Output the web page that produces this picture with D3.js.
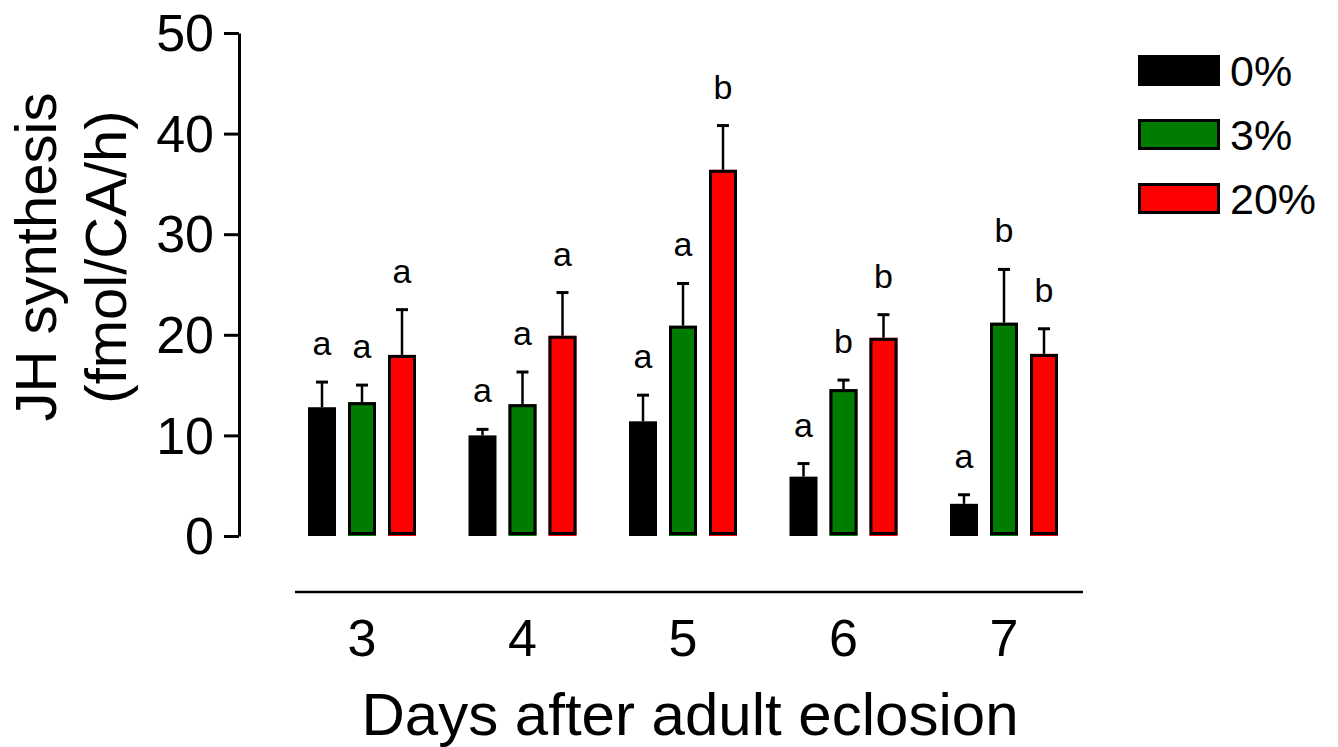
<!DOCTYPE html>
<html>
<head>
<meta charset="utf-8">
<script src="https://cdn.jsdelivr.net/npm/d3@7"></script>
<style>
  html, body { margin: 0; padding: 0; background: #fff; }
  svg { display: block; font-family: "Liberation Sans", Arial, sans-serif; }
</style>
</head>
<body>
<svg id="chart" width="1338" height="747"></svg>
<script>
// ---- data ----
const days = ["3", "4", "5", "6", "7"];
const series = ["0%", "3%", "20%"];
const mean0  = [12.8, 10.0, 11.4, 5.9, 3.2];
const mean3  = [13.3, 13.1, 20.9, 14.6, 21.2];
const mean20 = [18.0, 19.9, 36.4, 19.7, 18.1];
const sem0   = [2.5, 0.6, 2.6, 1.3, 0.9];
const sem3   = [1.7, 3.2, 4.2, 0.9, 5.3];
const sem20  = [4.5, 4.3, 4.4, 2.3, 2.5];
const letters0  = ["a", "a", "a", "a", "a"];
const letters3  = ["a", "a", "a", "b", "b"];
const letters20 = ["a", "a", "b", "b", "b"];
const yTicks = [0, 10, 20, 30, 40, 50];
const colors = ["#000000", "#007c00", "#ff0000"];

const means = [mean0, mean3, mean20];
const sems = [sem0, sem3, sem20];
const letters = [letters0, letters3, letters20];

const svg = d3.select("#chart");

const y = d3.scaleLinear().domain([0, 50]).range([536, 33]);
const x = d3.scaleBand().domain(days).range([281.75, 1084.25]).padding(0);
const xs = d3.scaleBand().domain(series).range([-60, 60]).paddingInner(0.3).paddingOuter(0.15);

// y axis
const yAxis = d3.axisLeft(y).tickValues(yTicks).tickSize(15).tickPadding(10).tickSizeOuter(0);
const gy = svg.append("g").attr("transform", "translate(239,0)").call(yAxis);
gy.select(".domain").attr("stroke", "#000").attr("stroke-width", 3);
gy.selectAll(".tick line").attr("stroke", "#000").attr("stroke-width", 3);
gy.selectAll(".tick text").attr("font-size", 52).attr("fill", "#000")
  .attr("font-family", "Liberation Sans, Arial, sans-serif").attr("dy", "0.34em");

// x axis (line below + labels)
const xAxis = d3.axisBottom(x).tickSize(0).tickPadding(27).tickSizeOuter(0);
const gx = svg.append("g").attr("transform", "translate(0,592)").call(xAxis);
gx.select(".domain").attr("stroke", "#000").attr("stroke-width", 2.5)
  .attr("d", "M295,0H1083");
gx.selectAll(".tick text").attr("font-size", 52).attr("fill", "#000")
  .attr("font-family", "Liberation Sans, Arial, sans-serif").attr("dy", "0.71em");

// bars
const bw = xs.bandwidth();
series.forEach((s, si) => {
  const g = svg.append("g");
  days.forEach((d, di) => {
    const v = means[si][di];
    const e = sems[si][di];
    const cx = x(d) + x.bandwidth() / 2 + xs(s) + bw / 2;
    // error bar (upper only)
    g.append("line").attr("x1", cx).attr("x2", cx).attr("y1", y(v)).attr("y2", y(v + e))
      .attr("stroke", "#000").attr("stroke-width", 2.5);
    g.append("line").attr("x1", cx - 6).attr("x2", cx + 6).attr("y1", y(v + e)).attr("y2", y(v + e))
      .attr("stroke", "#000").attr("stroke-width", 3);
    // bar
    g.append("rect").attr("x", cx - bw / 2).attr("y", y(v)).attr("width", bw)
      .attr("height", y(0) - y(v)).attr("fill", colors[si]);
    if (si > 0) {
      g.append("rect").attr("x", cx - bw / 2 + 1.5).attr("y", y(v) + 1.5).attr("width", bw - 3)
        .attr("height", y(0) - y(v) - 4).attr("fill", colors[si])
        .attr("stroke", "#000").attr("stroke-width", 3);
    }
    // significance letter
    g.append("text").attr("x", cx).attr("y", y(v + e) - 27)
      .attr("text-anchor", "middle").attr("font-size", 34).attr("fill", "#000")
      .text(letters[si][di]);
  });
});

// y axis title
const yt = svg.append("text").attr("transform", "translate(0,257) rotate(-90)")
  .attr("text-anchor", "middle").attr("font-size", 58).attr("fill", "#000");
yt.append("tspan").attr("x", 0).attr("y", 56).text("JH synthesis");
yt.append("tspan").attr("x", 0).attr("y", 126).text("(fmol/CA/h)");

// x axis title
svg.append("text").attr("x", 690).attr("y", 735).attr("text-anchor", "middle")
  .attr("font-size", 60).attr("fill", "#000").text("Days after adult eclosion");

// legend
const legTops = [55, 119, 183];
series.forEach((s, si) => {
  const top = legTops[si];
  if (si === 0) {
    svg.append("rect").attr("x", 1138).attr("y", top).attr("width", 82).attr("height", 31)
      .attr("fill", colors[si]);
  } else {
    svg.append("rect").attr("x", 1139.5).attr("y", top + 1.5).attr("width", 79).attr("height", 28)
      .attr("fill", colors[si]).attr("stroke", "#000").attr("stroke-width", 3);
  }
  svg.append("text").attr("x", 1230).attr("y", top + 31).attr("font-size", 43)
    .attr("fill", "#000").text(s);
});
</script>
</body>
</html>
